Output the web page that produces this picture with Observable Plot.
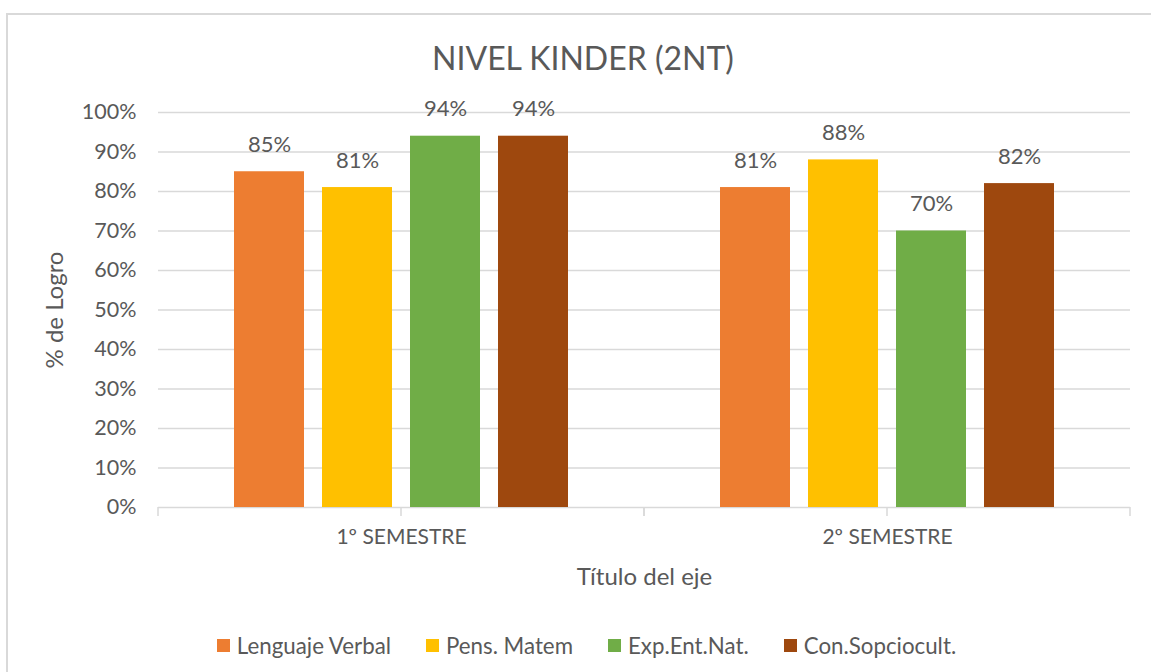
<!DOCTYPE html>
<html>
<head>
<meta charset="utf-8">
<script src="https://cdn.jsdelivr.net/npm/d3@7"></script>
<script src="https://cdn.jsdelivr.net/npm/@observablehq/plot@0.6"></script>
<style>
  html, body { margin: 0; padding: 0; background: #fff; width: 1151px; height: 672px; overflow: hidden; }
  body { font-family: Lato, "Open Sans", sans-serif; color: #595959; position: relative; }
  #frame { position: absolute; left: 6px; top: 13px; width: 1170px; height: 700px; border: 2px solid #d9d9d9; box-sizing: border-box; }
  #title { position: absolute; left: 0; width: 1166px; top: 38px; text-align: center; font-size: 32px; color: #595959; }
  #chart { position: absolute; left: 0; top: 0; }
  #legend { position: absolute; left: 0; width: 1173px; top: 632px; display: flex; justify-content: center; gap: 35px; font-size: 22.3px; color: #595959; }
  #legend .item { display: flex; align-items: center; gap: 7px; }
  #legend .sw { width: 13px; height: 13px; display: inline-block; }
</style>
</head>
<body>
<div id="frame"></div>
<div id="title"></div>
<div id="chart"></div>
<div id="legend"></div>
<script>
const titleText = "NIVEL KINDER (2NT)";
const semesters = ["1º SEMESTRE", "2º SEMESTRE"];
const series = ["Lenguaje Verbal", "Pens. Matem", "Exp.Ent.Nat.", "Con.Sopciocult."];
const colors = ["#ED7D31", "#FFC000", "#70AD47", "#9E480E"];
const sem1Values = [85, 81, 94, 94];
const sem2Values = [81, 88, 70, 82];
const yTicks = [0, 10, 20, 30, 40, 50, 60, 70, 80, 90, 100];
const yLabel = "% de Logro";
const xLabel = "Título del eje";

const data = [];
series.forEach((s, i) => {
  data.push({semester: semesters[0], series: s, value: sem1Values[i]});
  data.push({semester: semesters[1], series: s, value: sem2Values[i]});
});

document.getElementById("title").textContent = titleText;

const boundaryTicks = (index, scales, values, dimensions) => {
  const g = document.createElementNS("http://www.w3.org/2000/svg", "g");
  const left = dimensions.marginLeft;
  const right = dimensions.width - dimensions.marginRight;
  const bottom = dimensions.height - dimensions.marginBottom;
  const n = semesters.length;
  for (let k = 0; k <= n; k++) {
    const x = left + (right - left) * k / n;
    const l = document.createElementNS("http://www.w3.org/2000/svg", "line");
    l.setAttribute("x1", x); l.setAttribute("x2", x);
    l.setAttribute("y1", bottom); l.setAttribute("y2", bottom + 9);
    l.setAttribute("stroke", "#d9d9d9"); l.setAttribute("stroke-width", 1.5);
    g.appendChild(l);
  }
  return g;
};

const chart = Plot.plot({
  width: 1151,
  height: 672,
  marginTop: 112,
  marginBottom: 165,
  marginLeft: 157,
  marginRight: 21,
  style: {fontFamily: "Lato, 'Open Sans', sans-serif", fontSize: "21px", color: "#595959", background: "transparent", overflow: "visible"},
  fx: {domain: semesters, padding: 0, label: null, axis: "bottom", tickSize: 0, tickPadding: 22},
  x: {domain: series, paddingInner: 0.207, paddingOuter: 0.84, axis: null},
  y: {domain: [0, 100], ticks: yTicks, label: null, axis: null},
  color: {domain: series, range: colors},
  marks: [
    Plot.ruleY(yTicks, {stroke: "#d9d9d9", strokeWidth: 1.5}),
    Plot.barY(data, {fx: "semester", x: "series", y: "value", fill: "series"}),
    Plot.text(data, {fx: "semester", x: "series", y: "value", text: d => d.value + "%", dy: -20, lineAnchor: "bottom", fill: "#595959", fontSize: 22}),
    Plot.axisY({ticks: yTicks, tickFormat: d => d + "%", tickSize: 0, tickPadding: 22, fontSize: 21.5, label: null}),
    boundaryTicks,
    Plot.text([yLabel], {frameAnchor: "left", dx: -103, rotate: -90, textAnchor: "middle", fontSize: 24, fill: "#595959", facet: "super"}),
    Plot.text([xLabel], {frameAnchor: "bottom", dy: 77, fontSize: 24, fill: "#595959", facet: "super"})
  ]
});
document.getElementById("chart").appendChild(chart);

const legend = document.getElementById("legend");
series.forEach((s, i) => {
  const item = document.createElement("div");
  item.className = "item";
  const sw = document.createElement("span");
  sw.className = "sw";
  sw.style.background = colors[i];
  const t = document.createElement("span");
  t.textContent = s;
  item.appendChild(sw); item.appendChild(t);
  legend.appendChild(item);
});
</script>
</body>
</html>
